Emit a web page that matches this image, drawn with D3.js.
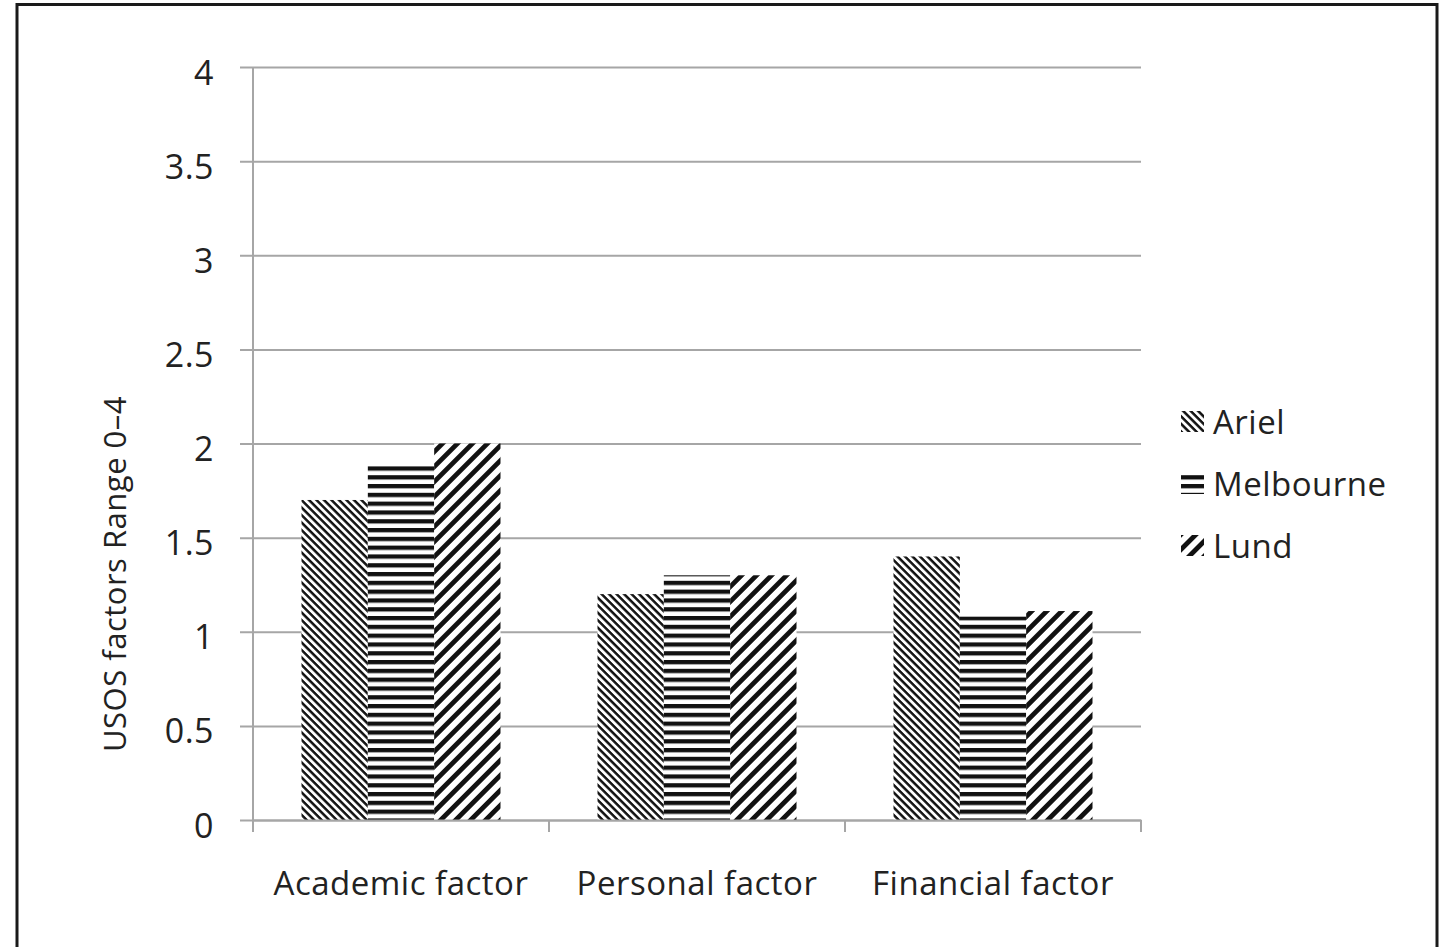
<!DOCTYPE html>
<html>
<head>
<meta charset="utf-8">
<script src="https://cdn.jsdelivr.net/npm/d3@7"></script>
<style>
  html, body { margin: 0; padding: 0; background: #fff; }
  svg { display: block; }
  text { font-family: "Open Sans", "Noto Sans", sans-serif; fill: #222; }
</style>
</head>
<body>
<svg id="chart" width="1443" height="947"></svg>
<script>
const categories = ["Academic factor", "Personal factor", "Financial factor"];
const seriesNames = ["Ariel", "Melbourne", "Lund"];
const arielValues = [1.7, 1.2, 1.4];
const melbourneValues = [1.89, 1.3, 1.08];
const lundValues = [2.0, 1.3, 1.11];
const yTicks = [0, 0.5, 1, 1.5, 2, 2.5, 3, 3.5, 4];
const yTitle = "USOS factors Range  0\u20134";

const seriesValues = [arielValues, melbourneValues, lundValues];
const patternIds = ["pat-ariel", "pat-melbourne", "pat-lund"];

const svg = d3.select("#chart");

// frame
svg.append("rect")
  .attr("x", 17).attr("y", 4.5)
  .attr("width", 1420).attr("height", 960)
  .attr("fill", "none").attr("stroke", "#1a1a1a").attr("stroke-width", 3);

// patterns
const defs = svg.append("defs");
function stripePattern(id, period, lineW, angle) {
  const p = defs.append("pattern")
    .attr("id", id)
    .attr("patternUnits", "userSpaceOnUse")
    .attr("width", 40).attr("height", period)
    .attr("patternTransform", `rotate(${angle})`);
  p.append("rect").attr("width", 40).attr("height", period).attr("fill", "#fff");
  p.append("rect").attr("y", 0).attr("width", 40).attr("height", lineW).attr("fill", "#111");
}
stripePattern("pat-ariel", 5.3, 2.5, 45);
stripePattern("pat-melbourne", 8.8, 4.3, 0);
stripePattern("pat-lund", 10.6, 4.8, -45);

const plotLeft = 253, plotRight = 1141, plotTop = 67, plotBottom = 820;

const y = d3.scaleLinear().domain([0, 4]).range([plotBottom, plotTop]);
const x0 = d3.scaleBand().domain(categories).range([plotLeft, plotRight]).paddingInner(0).paddingOuter(0);
const groupPad = 48.5;
const x1 = d3.scaleBand().domain(seriesNames)
  .range([groupPad, x0.bandwidth() - groupPad]).paddingInner(0).paddingOuter(0);

// gridlines + y labels
const yAxis = d3.axisLeft(y)
  .tickValues(yTicks)
  .tickFormat(d => String(d))
  .tickSizeInner(-(plotRight - 240))
  .tickSizeOuter(0)
  .tickPadding(26);
const gy = svg.append("g").attr("transform", "translate(240,0)").call(yAxis);
gy.select(".domain").remove();
gy.selectAll(".tick line").attr("stroke", "#a6a6a6").attr("stroke-width", 2);
gy.selectAll(".tick text")
  .attr("font-size", 34).attr("letter-spacing", 0.5)
  .attr("dy", "0.5em")
  .attr("fill", "#222")
  .style("font-family", '"Open Sans", sans-serif');

// y axis line
svg.append("line")
  .attr("x1", plotLeft).attr("x2", plotLeft)
  .attr("y1", plotTop).attr("y2", plotBottom + 12)
  .attr("stroke", "#a6a6a6").attr("stroke-width", 2);

// bars
const groups = svg.append("g").selectAll("g")
  .data(categories)
  .join("g")
  .attr("transform", d => `translate(${x0(d)},0)`);
groups.selectAll("rect")
  .data((d, i) => seriesNames.map((s, j) => ({ s, j, v: seriesValues[j][i] })))
  .join("rect")
  .attr("x", d => x1(d.s))
  .attr("width", x1.bandwidth())
  .attr("y", d => y(d.v))
  .attr("height", d => y(0) - y(d.v))
  .attr("fill", d => `url(#${patternIds[d.j]})`);

// x axis
const xAxis = d3.axisBottom(x0).tickSize(0).tickPadding(52).tickSizeOuter(0);
const gx = svg.append("g").attr("transform", `translate(0,${plotBottom})`).call(xAxis);
gx.select(".domain").attr("stroke", "#a6a6a6").attr("stroke-width", 2);
gx.selectAll(".tick text")
  .attr("font-size", 33).attr("letter-spacing", 0.5)
  .attr("fill", "#222")
  .style("font-family", '"Open Sans", sans-serif');
// category boundary ticks
const boundaries = categories.map(c => x0(c)).concat([x0(categories[categories.length - 1]) + x0.bandwidth()]);
gx.selectAll(".bound")
  .data(boundaries.slice(1))
  .join("line")
  .attr("x1", d => d).attr("x2", d => d)
  .attr("y1", 0).attr("y2", 12)
  .attr("stroke", "#a6a6a6").attr("stroke-width", 2);

// y title
svg.append("text")
  .attr("transform", "translate(126,574) rotate(-90)")
  .attr("text-anchor", "middle")
  .attr("font-size", 31)
  .attr("letter-spacing", 0.5)
  .text(yTitle);

// legend
const legend = svg.append("g").attr("transform", "translate(1181,0)");
const legendY = [422, 484, 546];
const li = legend.selectAll("g").data(seriesNames).join("g")
  .attr("transform", (d, i) => `translate(0,${legendY[i]})`);
li.append("rect")
  .attr("x", 0).attr("y", -11).attr("width", 23).attr("height", 21)
  .attr("fill", (d, i) => `url(#${patternIds[i]})`);
li.append("text")
  .attr("x", 32).attr("dy", "0.36em")
  .attr("font-size", 33).attr("letter-spacing", 0.5)
  .text(d => d);
</script>
</body>
</html>
